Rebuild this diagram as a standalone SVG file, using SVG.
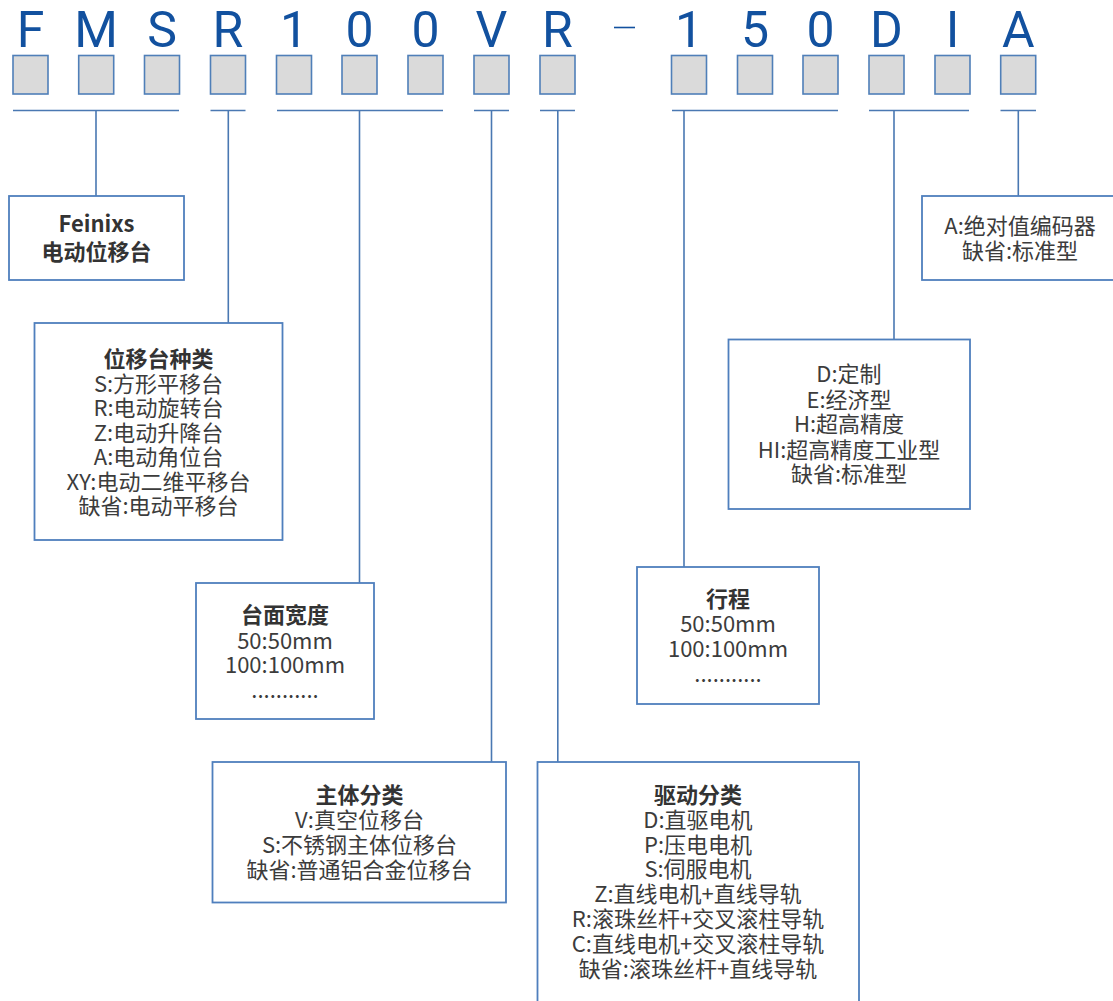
<svg xmlns="http://www.w3.org/2000/svg" width="1113" height="1001" viewBox="0 0 1113 1001">
<style>
.ltr{font-family:Roboto,"Liberation Sans",sans-serif;font-size:50px;fill:#12519f;text-anchor:middle}
.sq{fill:#dadada;stroke:#4f7fb8;stroke-width:1.6}
.ln{stroke:#4a78b2;stroke-width:1.6;fill:none}
.box{fill:#ffffff;stroke:#4f7fbd;stroke-width:1.8}
.t{font-family:"Noto Sans CJK SC","Noto Sans",sans-serif;font-size:22px;fill:#3c3c3c;text-anchor:middle}
.b{font-weight:bold;fill:#333333}
</style>
<rect width="1113" height="1001" fill="#ffffff"/>
<g id="code">
<g class="ltr">
<text x="30.5" y="47">F</text>
<text x="96.2" y="47">M</text>
<text x="162" y="47">S</text>
<text x="228" y="47">R</text>
<text x="294" y="47">1</text>
<text x="359.5" y="47">0</text>
<text x="425.5" y="47">0</text>
<text x="491.5" y="47">V</text>
<text x="557.5" y="47">R</text>
<text x="689" y="47">1</text>
<text x="755" y="47">5</text>
<text x="820.5" y="47">0</text>
<text x="886.5" y="47">D</text>
<text x="952.5" y="47">I</text>
<text x="1018.2" y="47">A</text>
</g>
<line x1="614" y1="27.5" x2="635" y2="27.5" stroke="#12519f" stroke-width="1.6"/>
<g class="sq">
<rect x="13" y="55.5" width="35" height="38.5"/>
<rect x="78.7" y="55.5" width="35" height="38.5"/>
<rect x="144.5" y="55.5" width="35" height="38.5"/>
<rect x="210.5" y="55.5" width="35" height="38.5"/>
<rect x="276.5" y="55.5" width="35" height="38.5"/>
<rect x="342" y="55.5" width="35" height="38.5"/>
<rect x="408" y="55.5" width="35" height="38.5"/>
<rect x="474" y="55.5" width="35" height="38.5"/>
<rect x="540" y="55.5" width="35" height="38.5"/>
<rect x="671.5" y="55.5" width="35" height="38.5"/>
<rect x="737.5" y="55.5" width="35" height="38.5"/>
<rect x="803" y="55.5" width="35" height="38.5"/>
<rect x="869" y="55.5" width="35" height="38.5"/>
<rect x="935" y="55.5" width="35" height="38.5"/>
<rect x="1000.7" y="55.5" width="35" height="38.5"/>
</g>
</g>
<g id="connectors" class="ln">
<path d="M13 110.5H179M96 110.5V196"/>
<path d="M210.5 110.5H245.5M228.3 110.5V323"/>
<path d="M277 110.5H443M359.5 110.5V583"/>
<path d="M474 110.5H509M491.5 110.5V762"/>
<path d="M540 110.5H575M557.8 110.5V762"/>
<path d="M672 110.5H838M684 110.5V567"/>
<path d="M869 110.5H969M894 110.5V339"/>
<path d="M1000.5 110.5H1036M1018.3 110.5V196"/>
</g>
<g id="n-brand">
<rect class="box" x="9" y="196" width="175" height="84"/>
<text class="t b" x="96.5" y="231.5">Feinixs</text>
<text class="t b" x="96.5" y="260">电动位移台</text>
</g>
<g id="n-type">
<rect class="box" x="34.5" y="323" width="248" height="217"/>
<text class="t b" x="158.5" y="366.5">位移台种类</text>
<text class="t" x="158.5" y="391.5">S:方形平移台</text>
<text class="t" x="158.5" y="416">R:电动旋转台</text>
<text class="t" x="158.5" y="440.5">Z:电动升降台</text>
<text class="t" x="158.5" y="465">A:电动角位台</text>
<text class="t" x="158.5" y="489.5">XY:电动二维平移台</text>
<text class="t" x="158.5" y="514">缺省:电动平移台</text>
</g>
<g id="n-width">
<rect class="box" x="196" y="583" width="178" height="136"/>
<text class="t b" x="285" y="623">台面宽度</text>
<text class="t" x="285" y="648.5">50:50mm</text>
<text class="t" x="285" y="673">100:100mm</text>
<text class="t" x="285" y="698">...........</text>
</g>
<g id="n-body">
<rect class="box" x="212.5" y="762" width="293.5" height="140.5"/>
<text class="t b" x="359.5" y="803">主体分类</text>
<text class="t" x="359.5" y="828">V:真空位移台</text>
<text class="t" x="359.5" y="853">S:不锈钢主体位移台</text>
<text class="t" x="359.5" y="878">缺省:普通铝合金位移台</text>
</g>
<g id="n-drive">
<rect class="box" x="537.5" y="762" width="321.5" height="250"/>
<text class="t b" x="698" y="803">驱动分类</text>
<text class="t" x="698" y="828">D:直驱电机</text>
<text class="t" x="698" y="852.5">P:压电电机</text>
<text class="t" x="698" y="877">S:伺服电机</text>
<text class="t" x="698" y="902">Z:直线电机+直线导轨</text>
<text class="t" x="698" y="926.5">R:滚珠丝杆+交叉滚柱导轨</text>
<text class="t" x="698" y="951.5">C:直线电机+交叉滚柱导轨</text>
<text class="t" x="698" y="976.5">缺省:滚珠丝杆+直线导轨</text>
</g>
<g id="n-stroke">
<rect class="box" x="637" y="567" width="182" height="137"/>
<text class="t b" x="728" y="606.5">行程</text>
<text class="t" x="728" y="632">50:50mm</text>
<text class="t" x="728" y="656.5">100:100mm</text>
<text class="t" x="728" y="681.5">...........</text>
</g>
<g id="n-precision">
<rect class="box" x="728.5" y="339.5" width="241.5" height="169.5"/>
<text class="t" x="849" y="382">D:定制</text>
<text class="t" x="849" y="407.5">E:经济型</text>
<text class="t" x="849" y="432">H:超高精度</text>
<text class="t" x="849" y="457.5">HI:超高精度工业型</text>
<text class="t" x="849" y="482">缺省:标准型</text>
</g>
<g id="n-encoder">
<rect class="box" x="922" y="196" width="200" height="84"/>
<text class="t" x="1020" y="234">A:绝对值编码器</text>
<text class="t" x="1020" y="259">缺省:标准型</text>
</g>
</svg>
